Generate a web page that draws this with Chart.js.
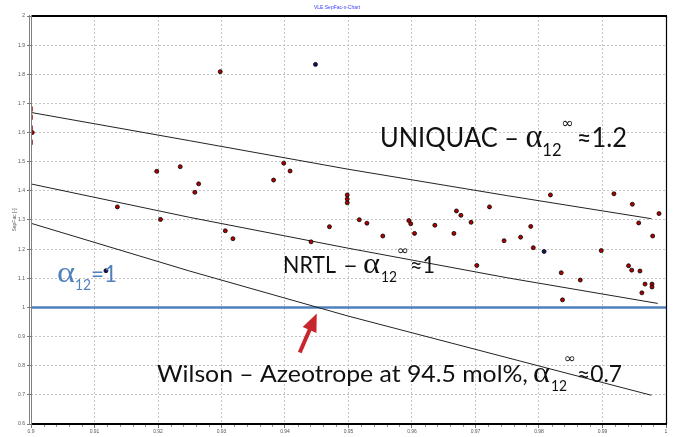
<!DOCTYPE html>
<html><head><meta charset="utf-8">
<script src="https://cdn.jsdelivr.net/npm/chart.js@4.4.1/dist/chart.umd.min.js"></script>
<style>html,body{margin:0;padding:0;background:#fff}</style>
</head><body>
<canvas id="c" width="673" height="437"></canvas>
<script>
// ---- data ----
const redX = [0.9002,0.9198,0.9235,0.9136,0.9204,0.9298,0.9264,0.9258,0.9382,0.9398,0.9408,0.9306,0.9318,0.9441,0.9470,0.9498,0.9498,0.9498,0.9517,0.9529,0.9554,0.9595,0.9598,0.9604,0.9636,0.9666,0.9670,0.9677,0.9693,0.9722,0.9745,0.9702,0.9818,0.9787,0.9771,0.9791,0.9835,0.9865,0.9837,0.9898,0.9918,0.9947,0.9989,0.9957,0.9979,0.9941,0.9946,0.9959,0.9967,0.9978,0.9978,0.9962];
const redY = [1.600,1.467,1.483,1.345,1.302,1.809,1.424,1.395,1.437,1.495,1.468,1.263,1.236,1.225,1.277,1.386,1.372,1.359,1.301,1.289,1.245,1.298,1.287,1.254,1.282,1.254,1.331,1.316,1.292,1.345,1.229,1.144,1.386,1.278,1.241,1.205,1.119,1.094,1.026,1.195,1.390,1.354,1.322,1.290,1.245,1.143,1.128,1.125,1.080,1.080,1.070,1.050];
const navyX = [0.9118,0.9448,0.9808];
const navyY = [1.126,1.834,1.192];
const edgeX = [0.90015,0.90015,0.90015,0.90015];
const edgeY = [1.681,1.653,1.616,1.567];
const uniquacX = [0.9,0.925,0.95,0.975,0.9977];
const uniquacY = [1.669,1.572,1.474,1.3835,1.3045];
const nrtlX = [0.9,0.925,0.95,0.975,0.9987];
const nrtlY = [1.4237,1.309,1.203,1.1017,1.0137];
const wilsonX = [0.9,0.925,0.95,0.983,0.9977];
const wilsonY = [1.2887,1.1247,0.970,0.782,0.6986];
const unityX = [0.9,1.0];
const unityY = [1.0,1.0];
const azeoX = 0.945, azeoY = 1.0;
const xTicks = [0.9,0.91,0.92,0.93,0.94,0.95,0.96,0.97,0.98,0.99,1];
const yTicks = [0.6,0.7,0.8,0.9,1,1.1,1.2,1.3,1.4,1.5,1.6,1.7,1.8,1.9,2];

const pts = (xs, ys) => xs.map((v, i) => ({x: v, y: ys[i]}));

function seg(ctx, text, x, yb, font, color, w) {
  ctx.font = font; ctx.fillStyle = color; ctx.textAlign = 'left'; ctx.textBaseline = 'alphabetic';
  if (w) {
    const m = ctx.measureText(text).width;
    ctx.save(); ctx.translate(x, yb); ctx.scale(w / m, 1); ctx.fillText(text, 0, 0); ctx.restore();
  } else ctx.fillText(text, x, yb);
}
// sequential run of text pieces fitted horizontally into [x0, x1]
function run(ctx, parts, x0, x1, yb, color) {
  let tot = 0;
  const ws = parts.map(p => { ctx.font = p.f; const w = ctx.measureText(p.t).width + (p.g || 0); tot += w; return w; });
  const k = (x1 - x0) / tot;
  ctx.save(); ctx.translate(x0, yb); ctx.scale(k, 1);
  ctx.fillStyle = color; ctx.textAlign = 'left'; ctx.textBaseline = 'alphabetic';
  let cx = 0;
  parts.forEach((p, i) => { ctx.font = p.f; ctx.fillText(p.t, cx + (p.dx || 0), p.dy || 0); cx += ws[i]; });
  ctx.restore();
}

const MAIN = "23px Lato", ALPHA = "30px 'Liberation Serif'", SUB = "16px Lato", INF = "14px 'DejaVu Sans'";

const deco = {
  id: 'deco',
  afterDraw(chart) {
    const {ctx, chartArea: a, scales: {x, y}} = chart;
    ctx.save();
    const ln = (x1, y1, x2, y2) => { ctx.beginPath(); ctx.moveTo(x1, y1); ctx.lineTo(x2, y2); ctx.stroke(); };
    // frame
    ctx.strokeStyle = '#000'; ctx.lineWidth = 2;
    ln(a.left, a.top, a.right + 1, a.top);
    ln(a.left, a.bottom, a.right + 1, a.bottom);
    ctx.lineWidth = 1.2; ln(a.right + 0.5, a.top, a.right + 0.5, a.bottom);
    ctx.strokeStyle = '#808080'; ctx.lineWidth = 1;
    ln(a.left - 1.5, a.top - 1, a.left - 1.5, a.bottom + 1);
    ln(a.left + 0.5, a.top - 1, a.left + 0.5, a.bottom + 1);
    // minor x ticks
    ctx.strokeStyle = '#777'; ctx.lineWidth = 0.8;
    for (let i = 0; i <= 50; i++) {
      if (i % 5 === 0) continue;
      const px = Math.round(x.getPixelForValue(0.9 + i * 0.002)) + 0.5;
      ln(px, a.bottom + 1, px, a.bottom + 3);
    }
    // title
    ctx.font = "5px 'Liberation Sans'"; ctx.fillStyle = '#3c3cff'; ctx.textAlign = 'center'; ctx.textBaseline = 'middle';
    ctx.fillText('VLE SepFac-x-Chart', 337, 8);
    // annotations
    const K = '#111';
    run(ctx, [
      {t: 'UNIQUAC – ', f: "26px Lato"},
      {t: 'α', f: "33px 'Liberation Serif'"},
      {t: '12', f: "17px Lato", dy: 9},
      {t: '∞', f: "15px 'DejaVu Sans'", dy: -19, g: 3},
      {t: '≈1.2', f: "26px Lato"}
    ], 380, 627, 147, K);

    seg(ctx, 'NRTL', 283, 273, MAIN, K, 53);
    seg(ctx, '–', 343, 273, MAIN, K, 15);
    seg(ctx, 'α', 363, 273, ALPHA, K, 17);
    seg(ctx, '12', 381, 282, SUB, K, 16);
    seg(ctx, '∞', 397, 255, INF, K, 12);
    seg(ctx, '≈1', 410, 273, MAIN, K, 25);

    seg(ctx, 'Wilson – Azeotrope at 94.5 mol%,', 157, 382, MAIN, K, 371);
    seg(ctx, 'α', 533, 382, ALPHA, K, 17);
    seg(ctx, '12', 551, 391, SUB, K, 16);
    seg(ctx, '∞', 564, 363, INF, K, 12);
    seg(ctx, '≈0.7', 577, 382, MAIN, K, 45);

    const B = '#4f81bd';
    seg(ctx, 'α', 57, 282, ALPHA, B, 18);
    seg(ctx, '12', 75, 290, SUB, B, 16);
    seg(ctx, '=1', 91, 282, MAIN, B, 26);

    // arrow to azeotrope
    const tx = x.getPixelForValue(azeoX), ty = y.getPixelForValue(azeoY) + 6;
    const sx = tx - 17, sy = ty + 39;
    const L = Math.hypot(tx - sx, ty - sy), ux = (tx - sx) / L, uy = (ty - sy) / L;
    const hl = 18, hw = 7.5;
    const bx = tx - ux * hl, by = ty - uy * hl;
    ctx.fillStyle = '#c8262d'; ctx.strokeStyle = '#c8262d';
    ctx.lineWidth = 4; ctx.lineCap = 'butt';
    ln(sx, sy, bx + ux, by + uy);
    ctx.beginPath(); ctx.moveTo(tx, ty);
    ctx.lineTo(bx - uy * hw, by + ux * hw); ctx.lineTo(bx + uy * hw, by - ux * hw); ctx.closePath(); ctx.fill();
    ctx.restore();
  }
};

const lineDs = (label, xs, ys, color, w, order) => ({
  type: 'line', label, data: pts(xs, ys), borderColor: color, borderWidth: w,
  pointRadius: 0, tension: 0, fill: false, order
});

new Chart(document.getElementById('c'), {
  type: 'scatter',
  data: {
    datasets: [
      {label: 'meas', data: pts(redX, redY), backgroundColor: '#b00000', borderColor: '#000', borderWidth: 0.8, pointRadius: 2.0, order: 1},
      {label: 'meas2', data: pts(navyX, navyY), backgroundColor: '#14145e', borderColor: '#000', borderWidth: 0.8, pointRadius: 2.0, order: 0},
      {label: 'edge', data: pts(edgeX, edgeY), pointStyle: 'line', rotation: 90, borderColor: '#8a1010', borderWidth: 1.6, pointRadius: 2.5, order: 2},
      lineDs('UNIQUAC', uniquacX, uniquacY, '#222', 1, 3),
      lineDs('NRTL', nrtlX, nrtlY, '#222', 1, 4),
      lineDs('Wilson', wilsonX, wilsonY, '#222', 1, 5),
      lineDs('alpha=1', unityX, unityY, '#4f81bd', 2.5, 6)
    ]
  },
  options: {
    responsive: false, animation: false,
    layout: {padding: {top: 16, right: 7, left: 0, bottom: 0}},
    plugins: {legend: {display: false}, tooltip: {enabled: false}, title: {display: false}},
    scales: {
      x: {
        type: 'linear', min: 0.9, max: 1,
        afterBuildTicks: s => { s.ticks = xTicks.map(v => ({value: v})); },
        afterFit: s => { s.height = 13; s.paddingLeft = 0; s.paddingRight = 0; s.paddingTop = 0; s.paddingBottom = 0; },
        ticks: {callback: v => String(+v.toFixed(2)), font: {size: 5, family: 'Liberation Sans'}, color: '#555', padding: 1, maxRotation: 0, autoSkip: false},
        grid: {color: '#c4c4c4', lineWidth: 1, tickLength: 4, tickColor: '#777', drawTicks: true},
        border: {display: false, dash: [2, 2]}
      },
      y: {
        type: 'linear', min: 0.6, max: 2,
        afterBuildTicks: s => { s.ticks = yTicks.map(v => ({value: v})); },
        afterFit: s => { s.width = 31; s.paddingLeft = 0; s.paddingRight = 0; s.paddingTop = 0; s.paddingBottom = 0; },
        ticks: {callback: v => String(+v.toFixed(1)), font: {size: 5, family: 'Liberation Sans'}, color: '#555', padding: 2, autoSkip: false},
        grid: {color: '#c4c4c4', lineWidth: 1, tickLength: 4, tickColor: '#777', drawTicks: true},
        border: {display: false, dash: [2, 2]},
        title: {display: true, text: 'SepFac [-]', font: {size: 5, family: 'Liberation Sans'}, color: '#555', padding: {top: 12, bottom: 0}}
      }
    }
  },
  plugins: [deco]
});
</script>
</body></html>
